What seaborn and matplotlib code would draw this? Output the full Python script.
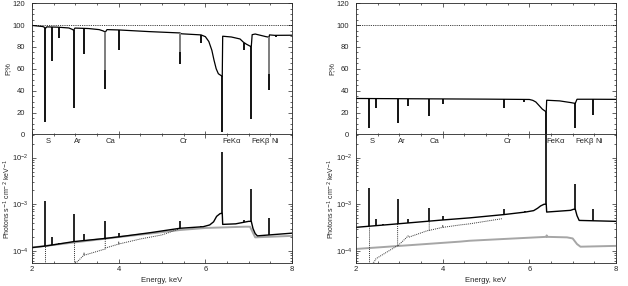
import numpy as np
import pandas as pd
import seaborn as sns
import matplotlib.pyplot as plt
from matplotlib.ticker import MultipleLocator, LogLocator, NullFormatter


# ---------------- data ----------------
elem_names = ['S', 'Ar', 'Ca', 'Cr', 'FeKα', 'FeKβ', 'Ni']
elem_E = [2.31, 2.96, 3.69, 5.41, 6.4, 7.06, 7.53]

# left, polarisation (%)
pl_E = [2.0, 2.25, 2.29, 2.31, 2.34, 2.6, 2.85, 2.93, 2.96, 2.99, 3.3, 3.55, 3.65, 3.69,
        3.73, 4.0, 4.7, 5.4, 5.41, 5.45, 5.9, 6.0, 6.08, 6.15, 6.2, 6.25, 6.3, 6.39, 6.4,
        6.6, 6.8, 6.88, 6.95, 7.05, 7.06, 7.08, 7.15, 7.4, 7.47, 7.48, 7.6, 8.0]
pl_P = [99.6, 98.6, 97.8, 97.0, 98.3, 98.0, 97.3, 96.0, 95.2, 97.2, 96.8, 95.8, 94.5, 93.4,
        95.8, 95.5, 94.0, 92.8, 92.8, 92.0, 91.0, 89.4, 85.0, 77.0, 68.0, 60.2, 55.7, 53.3, 89.8,
        89.1, 87.3, 84.3, 82.5, 80.4, 80.4, 91.2, 91.8, 89.4, 88.9, 91.0, 90.6, 90.7]
pl_line_E = [2.31, 2.46, 2.62, 2.96, 3.2, 3.69, 4.0, 5.41, 5.9, 6.395, 6.9, 7.06, 7.47, 7.63]
pl_line_base = [97.0, 98.2, 98.0, 95.2, 96.9, 93.4, 95.5, 92.8, 91.0, 53.3, 84.0, 80.4, 88.9, 90.6]
pl_line_tip = [12.0, 67.0, 88.5, 24.2, 73.8, 42.2, 77.5, 64.2, 83.5, 3.0, 77.7, 14.2, 40.6, 89.0]
pl_split_E = [3.69, 5.41, 7.47]
pl_split_base = [93.4, 92.8, 88.9]
pl_split_mid = [58.7, 75.2, 55.7]

# right, polarisation (%)
pr_E = [2.0, 3.0, 4.0, 5.0, 6.0, 6.08, 6.15, 6.22, 6.3, 6.39, 6.4, 6.7, 6.95, 7.05, 7.06,
        7.1, 7.47, 8.0]
pr_P = [33.2, 33.0, 32.8, 32.6, 32.3, 31.5, 30.0, 27.0, 23.5, 21.0, 31.6, 31.0, 29.5, 28.8,
        28.8, 32.5, 32.5, 32.4]
pr_line_E = [2.31, 2.46, 2.96, 3.2, 3.69, 4.0, 5.41, 5.88, 6.395, 7.06, 7.47]
pr_line_base = [33.2, 33.2, 33.0, 33.0, 32.9, 32.8, 32.5, 32.3, 21.0, 28.8, 32.5]
pr_line_tip = [6.0, 24.1, 10.5, 26.5, 17.5, 28.0, 24.1, 30.0, 0.0, 6.6, 18.1]

# left, spectrum (photons s-1 cm-2 keV-1)
sl_E = [2.0, 2.31, 2.96, 3.69, 4.0, 4.72, 5.41, 5.95, 6.1, 6.19, 6.26, 6.34, 6.39, 6.4,
        6.7, 7.0, 7.06, 7.1, 7.15, 7.2, 8.0]
sl_F = [1.18e-4, 1.27e-4, 1.58e-4, 1.85e-4, 2.0e-4, 2.45e-4, 3.05e-4, 3.3e-4, 3.6e-4, 4.2e-4,
        5.5e-4, 6.3e-4, 6.4e-4, 3.7e-4, 3.8e-4, 4.3e-4, 4.3e-4, 3.0e-4, 2.35e-4, 2.1e-4, 2.4e-4]
sl_line_E = [2.31, 2.46, 2.62, 2.96, 3.2, 3.69, 4.0, 5.41, 5.9, 6.395, 6.9, 7.06, 7.47]
sl_line_base = [1.27e-4, 1.32e-4, 1.4e-4, 1.58e-4, 1.7e-4, 1.85e-4, 2.0e-4, 3.05e-4, 3.3e-4,
                6.4e-4, 4.1e-4, 4.3e-4, 2.2e-4]
sl_line_tip = [1.17e-3, 2.0e-4, 1.5e-4, 6.3e-4, 2.25e-4, 4.3e-4, 2.45e-4, 4.3e-4, 3.5e-4,
               1.35e-2, 4.5e-4, 2.1e-3, 5.0e-4]
sl_gray_E = [2.0, 4.0, 4.72, 5.41, 6.0, 6.92, 7.03, 7.15, 8.0]
sl_gray_F = [1.18e-4, 1.98e-4, 2.35e-4, 2.8e-4, 3.1e-4, 3.3e-4, 3.3e-4, 1.95e-4, 2.1e-4]
sl_dot_E = [[2.31, 2.31], [2.96, 2.96],
            [2.97, 3.19, 3.2, 3.21, 3.69, 3.69],
            [3.69, 4.0, 4.0, 4.01, 4.5, 5.0, 5.37]]
sl_dot_F = [[4.0e-5, 1.27e-4], [4.0e-5, 1.58e-4],
            [5.0e-5, 8.0e-5, 9.0e-5, 8.1e-5, 1.1e-4, 1.85e-4],
            [1.15e-4, 1.4e-4, 1.55e-4, 1.41e-4, 1.8e-4, 2.2e-4, 2.9e-4]]

# right, spectrum
sr_E = [2.0, 2.96, 4.0, 4.62, 5.41, 5.91, 6.1, 6.19, 6.26, 6.34, 6.39, 6.4, 6.95, 7.02,
        7.06, 7.1, 7.15, 8.0]
sr_F = [3.2e-4, 3.8e-4, 4.6e-4, 5.1e-4, 6.0e-4, 6.8e-4, 7.3e-4, 8.2e-4, 9.2e-4, 1.0e-3,
        1.0e-3, 6.8e-4, 7.4e-4, 7.8e-4, 7.8e-4, 5.7e-4, 4.5e-4, 4.3e-4]
sr_line_E = [2.31, 2.46, 2.62, 2.96, 3.2, 3.69, 4.0, 5.41, 5.9, 6.395, 7.06, 7.47]
sr_line_base = [3.35e-4, 3.45e-4, 3.55e-4, 3.8e-4, 4.0e-4, 4.4e-4, 4.6e-4, 6.0e-4, 6.8e-4,
                1.0e-3, 7.8e-4, 4.4e-4]
sr_line_tip = [2.2e-3, 4.9e-4, 3.8e-4, 1.3e-3, 4.9e-4, 8.3e-4, 5.6e-4, 7.8e-4, 7.3e-4,
               5.0e-2, 2.7e-3, 7.8e-4]
sr_gray_E = [2.0, 4.4, 4.62, 5.41, 6.39, 6.4, 6.41, 6.87, 7.0, 7.1, 7.18, 8.0]
sr_gray_F = [1.1e-4, 1.58e-4, 1.65e-4, 1.8e-4, 2.0e-4, 2.15e-4, 2.0e-4, 1.95e-4, 1.85e-4,
             1.4e-4, 1.23e-4, 1.28e-4]
sr_dot_E = [[2.31, 2.31],
            [2.33, 2.42, 2.46, 2.96, 2.96],
            [2.97, 3.17, 3.2, 3.22, 3.64, 3.69, 3.69],
            [3.69, 4.0, 4.0, 4.01, 4.4, 4.62, 5.37]]
sr_dot_F = [[4.0e-5, 3.35e-4],
            [5.0e-5, 5.8e-5, 6.8e-5, 1.3e-4, 3.8e-4],
            [1.3e-4, 1.95e-4, 2.1e-4, 1.97e-4, 2.7e-4, 2.75e-4, 4.4e-4],
            [2.75e-4, 3.2e-4, 3.5e-4, 3.2e-4, 3.6e-4, 3.8e-4, 4.9e-4]]


# ---------------- style ----------------
sns.set_style('ticks')
plt.rcParams['font.family'] = ['Liberation Sans', 'DejaVu Sans']
plt.rcParams['font.size'] = 5.5
plt.rcParams['axes.linewidth'] = 0.6

fig = plt.figure(figsize=(6.28, 2.86), dpi=100)

LEFT_X = [0.0510, 0.5669]
W = 0.4140
TOP = [0.5280, 0.4615]
BOT = [0.0804, 0.4510]


def style(ax):
    ax.tick_params(which='both', direction='in', top=True, right=True,
                   width=0.5, pad=2.5, labelsize=5.5)
    ax.tick_params(which='major', length=3)
    ax.tick_params(which='minor', length=1.6)
    ax.xaxis.set_major_locator(MultipleLocator(2))
    ax.xaxis.set_minor_locator(MultipleLocator(0.5))
    ax.set_xlim(2, 8)
    for s in ax.spines.values():
        s.set_linewidth(0.6)


def curve(ax, x, y, **kw):
    df = pd.DataFrame({'E': x, 'v': y})
    sns.lineplot(data=df, x='E', y='v', ax=ax, sort=False, estimator=None, **kw)


panels = [
    (pl_E, pl_P, pl_line_E, pl_line_base, pl_line_tip, True,
     sl_E, sl_F, sl_line_E, sl_line_base, sl_line_tip, sl_gray_E, sl_gray_F, sl_dot_E, sl_dot_F),
    (pr_E, pr_P, pr_line_E, pr_line_base, pr_line_tip, False,
     sr_E, sr_F, sr_line_E, sr_line_base, sr_line_tip, sr_gray_E, sr_gray_F, sr_dot_E, sr_dot_F),
]

for i, (pE, pP, plE, plB, plT, split, sE, sF, slE, slB, slT, gE, gF, dE, dF) in enumerate(panels):
    x0 = LEFT_X[i]
    ax1 = fig.add_axes([x0, TOP[0], W, TOP[1]])
    ax2 = fig.add_axes([x0, BOT[0], W, BOT[1]])

    # polarisation degree
    ax1.axhline(100, color='k', lw=0.6, ls=(0, (1, 1.2)))
    curve(ax1, pE, pP, color='k', lw=0.9)
    ax1.vlines(plE, plB, plT, color='k', lw=1.3)
    if split:
        ax1.vlines(pl_split_E, pl_split_base, pl_split_mid, color='0.55', lw=1.3)
    ax1.set_ylim(0, 120)
    ax1.yaxis.set_major_locator(MultipleLocator(20))
    ax1.yaxis.set_minor_locator(MultipleLocator(5))
    style(ax1)
    ax1.tick_params(labelbottom=False, pad=5)
    ax1.set_xlabel('')
    ax1.set_ylabel('P,%', fontsize=5.5)
    ax1.yaxis.set_label_coords(-0.08, 0.5)

    # spectrum
    curve(ax2, gE, gF, color='0.65', lw=1.4)
    for xx, yy in zip(dE, dF):
        curve(ax2, xx, yy, color='0.2', lw=0.7, linestyle=(0, (1, 1)))
    curve(ax2, sE, sF, color='k', lw=1.0)
    ax2.vlines(slE, slB, slT, color='k', lw=1.2)
    ax2.set_yscale('log')
    ax2.set_ylim(5.5e-5, 3.2e-2)
    ax2.yaxis.set_major_locator(LogLocator(base=10, numticks=10))
    ax2.yaxis.set_minor_locator(LogLocator(base=10, subs=np.arange(2, 10), numticks=10))
    ax2.yaxis.set_minor_formatter(NullFormatter())
    style(ax2)
    ax2.set_xlabel('Energy, keV', fontsize=5.5)
    ax2.xaxis.set_label_coords(0.5, -0.11)
    ax2.set_ylabel(r'Photons s$^{-1}$ cm$^{-2}$ keV$^{-1}$', fontsize=5)
    ax2.yaxis.set_label_coords(-0.075, 0.5)

    for name, e in zip(elem_names, elem_E):
        ax2.text(e, 0.945, name, transform=ax2.get_xaxis_transform(),
                 ha='left', va='center', fontsize=5.5)

fig.savefig('out.png', dpi=100)
